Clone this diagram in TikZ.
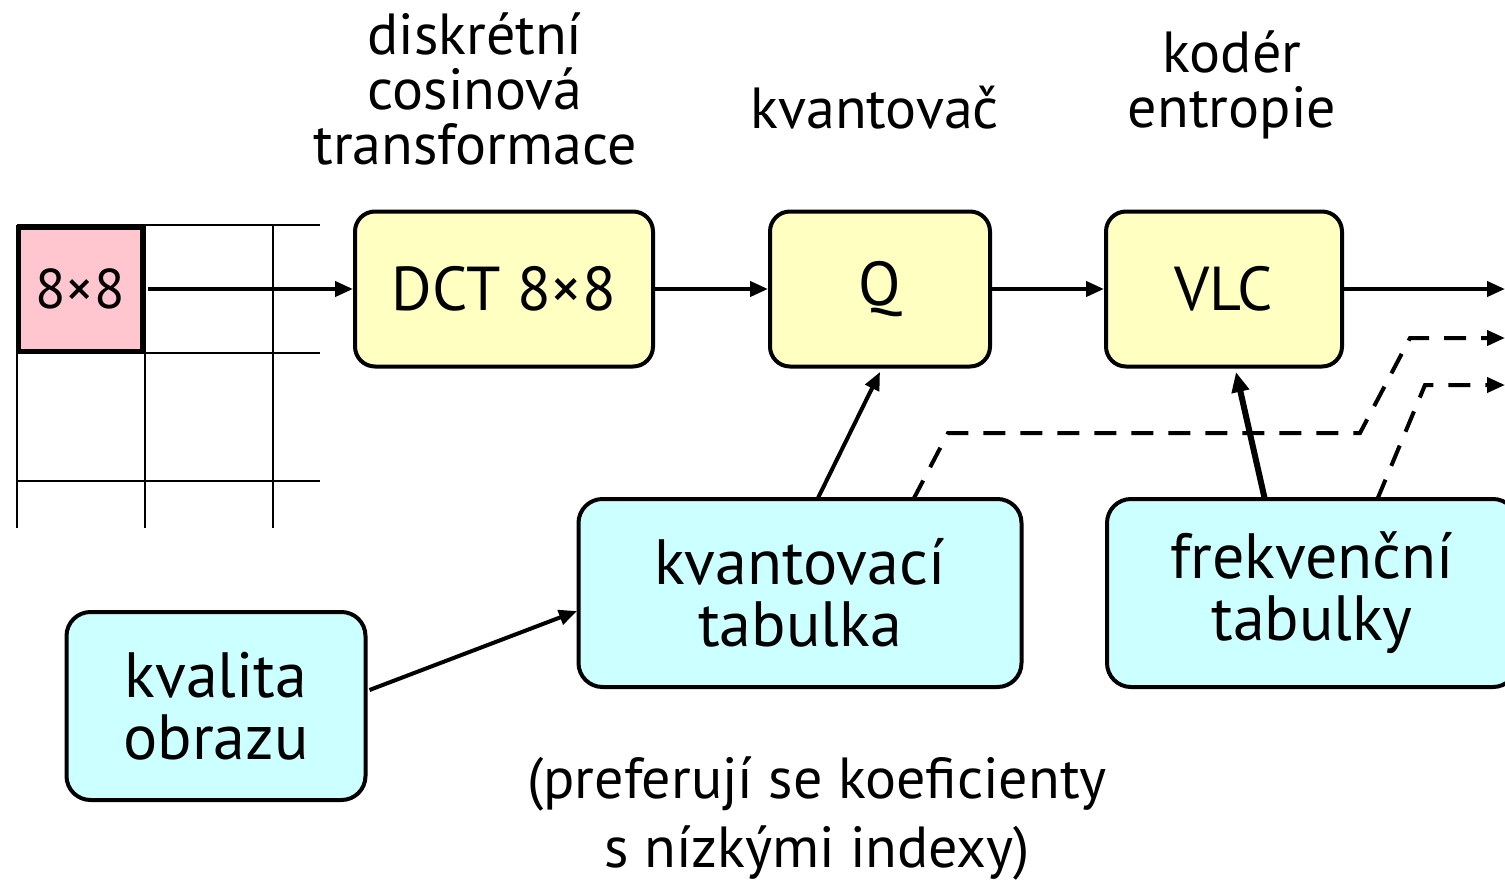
\documentclass[tikz,border=0pt]{standalone}
\usepackage{fontspec}
\setmainfont{PT Sans}
\usetikzlibrary{arrows.meta}
\definecolor{pinkc}{RGB}{255,198,208}
\definecolor{yelc}{RGB}{255,255,194}
\definecolor{cyanc}{RGB}{204,255,255}
\begin{document}
\begin{tikzpicture}[x=1pt,y=-1pt,
  txt/.style={font=\fontsize{58}{55}\selectfont, align=center, inner sep=0pt},
  ntxt/.style={font=\fontsize{58}{69}\selectfont, align=center, inner sep=0pt},
  ybox/.style={draw, line width=4pt, rounded corners=20pt, fill=yelc, font=\fontsize{62}{62}\selectfont, align=center, inner sep=0pt},
  cbox/.style={draw, line width=4pt, rounded corners=24pt, fill=cyanc, font=\fontsize{64}{62}\selectfont, align=center, inner sep=0pt},
  arr/.style={-{Triangle[length=18pt,width=15pt]}, line width=4pt},
  darr/.style={-{Triangle[length=18pt,width=15pt]}, line width=4pt, dash pattern=on 22pt off 15pt},
  gridl/.style={line width=2.5pt}
]
\useasboundingbox (0,0) rectangle (1505,881);
% grid
\draw[gridl] (17,225) -- (320,225) (17,353) -- (320,353) (17,481) -- (320,481);
\draw[gridl] (17,225) -- (17,528) (145,225) -- (145,528) (273,225) -- (273,528);
\node[draw, line width=5pt, fill=pinkc, minimum width=124pt, minimum height=124pt, inner sep=0pt, font=\fontsize{56}{60}\selectfont] (blk) at (80,289) {8×8};
% top boxes
\node[ybox, minimum width=298pt, minimum height=155pt] (dct) at (504,289) {DCT 8×8};
\node[ybox, minimum width=220pt, minimum height=155pt] (q) at (880,289) {Q};
\node[ybox, minimum width=236pt, minimum height=155pt] (vlc) at (1224,289) {VLC};
% labels
\node[txt] (l1) at (475,89) {diskrétní\\cosinová\\transformace};
\node[txt] (l2) at (875,108) {kvantovač};
\node[txt] (l3) at (1232,85) {kodér\\entropie};
% bottom boxes
\node[cbox, minimum width=443pt, minimum height=188pt] (kt) at (800,593) {kvantovací\\tabulka};
\node[cbox, minimum width=299pt, minimum height=188pt] (kv) at (216,706) {kvalita\\obrazu};
\node[cbox, minimum width=410pt, minimum height=188pt] (ft) at (1312,593) {frekvenční\\tabulky};
\node[ntxt] (note) at (817,818) {(preferují se koeficienty\\s nízkými indexy)};
% coordinates
\coordinate (out1) at (1505,289);
\coordinate (out2) at (1505,338);
\coordinate (out3) at (1505,385);
% arrows
\draw[arr] (blk.east) ++(3,0) -- (dct.west);
\draw[arr] (dct.east) -- (q.west);
\draw[arr] (q.east) -- (vlc.west);
\draw[arr] (vlc.east) -- (out1);
\draw[arr] (kv.east |- 0,690) ++(2,0) -- (577,611);
\draw[arr] (817,500) -- (880,372);
\draw[-{Triangle[length=20pt,width=17pt]}, line width=6pt] (1265,500) -- (1236,372);
\draw[darr] (913,500) -- (948,433) -- (1360,433) -- (1410,338) -- (out2);
\draw[darr] (1377,500) -- (1425,385) -- (out3);
\end{tikzpicture}
\end{document}
